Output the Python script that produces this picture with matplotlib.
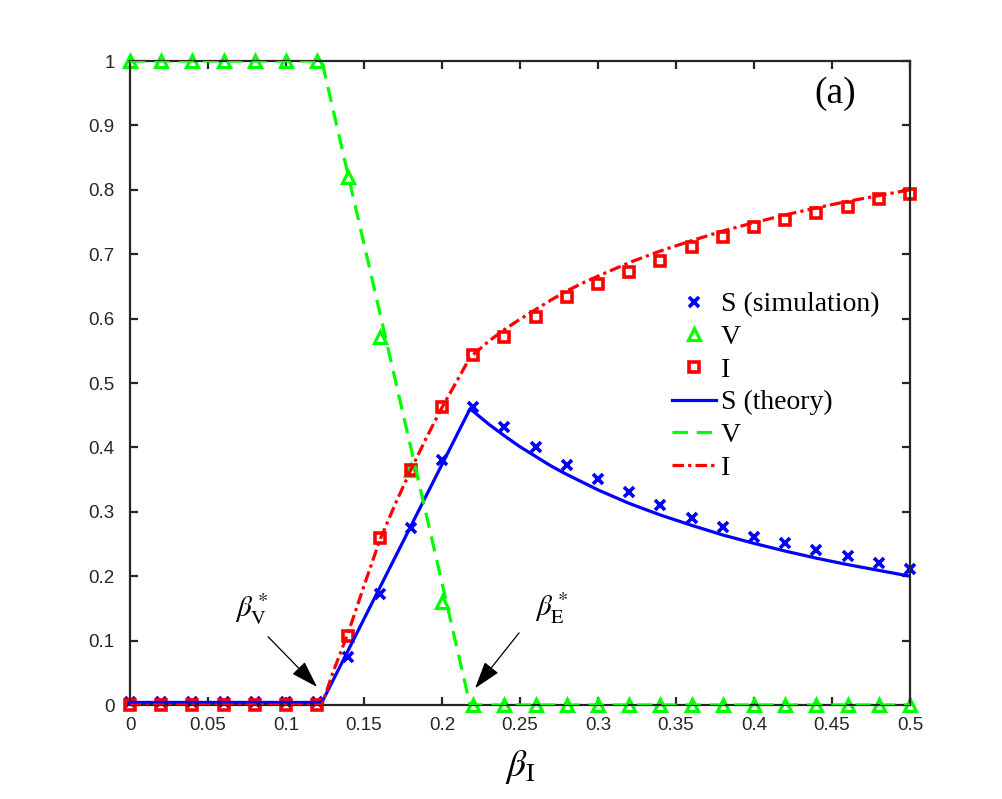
import matplotlib
matplotlib.use('Agg')
import matplotlib.pyplot as plt

# simulation points
beta_sim = [0.0, 0.02, 0.04, 0.06, 0.08, 0.10, 0.12, 0.14, 0.16, 0.18, 0.20, 0.22, 0.24,
            0.26, 0.28, 0.30, 0.32, 0.34, 0.36, 0.38, 0.40, 0.42, 0.44, 0.46, 0.48, 0.50]
S_sim = [0.004, 0.004, 0.004, 0.004, 0.004, 0.004, 0.004, 0.075, 0.172, 0.275, 0.381, 0.462, 0.432,
         0.401, 0.372, 0.351, 0.331, 0.311, 0.291, 0.277, 0.261, 0.251, 0.241, 0.232, 0.221, 0.211]
V_sim = [1.0, 1.0, 1.0, 1.0, 1.0, 1.0, 1.0, 0.82, 0.572, 0.365, 0.16, 0.0, 0.0,
         0.0, 0.0, 0.0, 0.0, 0.0, 0.0, 0.0, 0.0, 0.0, 0.0, 0.0, 0.0, 0.0]
I_sim = [0.0, 0.0, 0.0, 0.0, 0.0, 0.0, 0.0, 0.107, 0.26, 0.365, 0.463, 0.543, 0.572,
         0.602, 0.633, 0.653, 0.673, 0.69, 0.711, 0.726, 0.742, 0.753, 0.764, 0.774, 0.785, 0.793]

# theory curves
beta_S = [0.0, 0.123, 0.218, 0.23, 0.24, 0.25, 0.26, 0.27, 0.28, 0.29, 0.30, 0.32, 0.34,
          0.36, 0.38, 0.40, 0.42, 0.44, 0.46, 0.48, 0.50]
S_th = [0.004, 0.004, 0.46, 0.436, 0.418, 0.401, 0.386, 0.371, 0.358, 0.346, 0.334, 0.313, 0.295,
        0.279, 0.264, 0.251, 0.239, 0.228, 0.218, 0.209, 0.20]
beta_V = [0.0, 0.123, 0.218, 0.50]
V_th = [1.0, 1.0, 0.0, 0.0]
beta_I = [0.0, 0.123, 0.13, 0.14, 0.15, 0.16, 0.17, 0.18, 0.19, 0.20, 0.21, 0.218, 0.23, 0.24,
          0.25, 0.26, 0.27, 0.28, 0.29, 0.30, 0.32, 0.34, 0.36, 0.38, 0.40, 0.42, 0.44, 0.46,
          0.48, 0.50]
I_th = [0.0, 0.0, 0.05, 0.113, 0.185, 0.255, 0.312, 0.365, 0.415, 0.462, 0.505, 0.54, 0.565, 0.583,
        0.599, 0.614, 0.629, 0.643, 0.655, 0.666, 0.687, 0.705, 0.721, 0.736, 0.749, 0.761, 0.772,
        0.782, 0.791, 0.80]

x_ticks = [0, 0.05, 0.1, 0.15, 0.2, 0.25, 0.3, 0.35, 0.4, 0.45, 0.5]
x_tick_labels = ['0', '0.05', '0.1', '0.15', '0.2', '0.25', '0.3', '0.35', '0.4', '0.45', '0.5']
y_ticks = [0, 0.1, 0.2, 0.3, 0.4, 0.5, 0.6, 0.7, 0.8, 0.9, 1]
y_tick_labels = ['0', '0.1', '0.2', '0.3', '0.4', '0.5', '0.6', '0.7', '0.8', '0.9', '1']

plt.rcParams['mathtext.fontset'] = 'stix'
plt.rcParams['font.family'] = ['Liberation Sans', 'DejaVu Sans']

blue = '#0000ff'
green = '#00ff00'
red = '#ff0000'
axcol = '#262626'

fig = plt.figure(figsize=(10.02, 7.99), dpi=100)
ax = fig.add_axes([130 / 1002, 94 / 799, 780 / 1002, 644 / 799])

# markers first, lines on top (like matlab)
ax.plot(beta_sim, S_sim, 'x', color=blue, ms=6.5, mew=2.6, label='S (simulation)', zorder=2, clip_on=False)
ax.plot(beta_sim, V_sim, '^', color=green, mfc='none', ms=8, mew=2.3, label='V', zorder=2, clip_on=False)
ax.plot(beta_sim, I_sim, 's', color=red, mfc='none', ms=6.5, mew=2.6, label='I', zorder=2, clip_on=False)

ax.plot(beta_S, S_th, '-', color=blue, lw=2.3, label='S (theory)', zorder=3)
ax.plot(beta_V, V_th, color=green, lw=2.3, dashes=(4.8, 2.8), label='V', zorder=3)
ax.plot(beta_I, I_th, color=red, lw=2.3, dashes=(3.6, 1.3, 1.0, 1.3), label='I', zorder=3)

ax.set_xlim(0, 0.5)
ax.set_ylim(0, 1)
ax.set_xticks(x_ticks)
ax.set_xticklabels(x_tick_labels)
ax.set_yticks(y_ticks)
ax.set_yticklabels(y_tick_labels)
ax.tick_params(direction='in', length=6, width=1.6, colors=axcol, labelsize=13.5,
               top=True, right=True)
ax.tick_params(axis='x', pad=9)
ax.tick_params(axis='y', pad=11)
for sp in ax.spines.values():
    sp.set_linewidth(1.6)
    sp.set_color(axcol)

ax.set_xlabel(r'$\beta_{\rm I}$', fontsize=27, labelpad=10)

ax.text(0.904, 0.95, '(a)', transform=ax.transAxes, ha='center', va='center',
        fontsize=27, family=['Liberation Serif', 'DejaVu Serif'])

ax.legend(loc='upper left', bbox_to_anchor=(672 / 1002, 1 - 292 / 799),
          bbox_transform=fig.transFigure, frameon=False, borderpad=0,
          prop={'family': ['Liberation Serif', 'DejaVu Serif'], 'size': 20},
          handlelength=1.6, handletextpad=0.15, labelspacing=0.26, borderaxespad=0)

arrow = dict(arrowstyle='-|>,head_length=0.85,head_width=0.27', color='black', lw=0.9,
             mutation_scale=20, shrinkA=0, shrinkB=0)
ax.annotate('', xy=(0.1199, 0.028), xytext=(0.0885, 0.106), arrowprops=arrow)
ax.annotate('', xy=(0.2212, 0.026), xytext=(0.2494, 0.112), arrowprops=arrow)
ax.text(0.078, 0.148, r'$\beta^*_{\rm V}$', fontsize=21, ha='center', va='center')
ax.text(0.270, 0.151, r'$\beta^*_{\rm E}$', fontsize=21, ha='center', va='center')

fig.savefig('out.png', dpi=100)
